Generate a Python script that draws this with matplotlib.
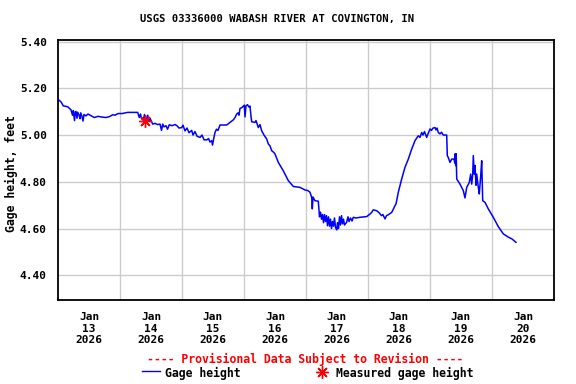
import numpy as np
import matplotlib
matplotlib.use('Agg')
import matplotlib.pyplot as plt

# hours since Jan 13 2026 00:00
hours = [0.27, 1.16, 2.05, 3.75, 5.03, 5.61, 5.92, 6.39, 6.70, 6.97, 7.35, 7.63, 8.13, 8.52,
         8.79, 9.29, 9.68, 10.06, 10.84, 11.61, 12.12, 14.05, 15.48, 17.03, 18.58, 20.13,
         21.17, 22.06, 23.23, 24.77, 26.98, 29.42, 30.85, 31.47, 31.94, 32.32, 33.02, 33.48,
         34.06, 34.72, 35.23, 35.61, 36.66, 37.55, 38.52, 39.48, 40.06, 40.53, 41.03, 41.81,
         42.39, 43.08, 44.13, 45.29, 46.06, 46.84, 47.88, 48.39, 49.16, 49.94, 50.71, 51.75,
         52.26, 53.03, 53.81, 54.97, 55.74, 56.52, 57.56, 58.26, 58.84, 59.50, 59.81, 60.19,
         60.77, 61.35, 61.94, 62.71, 65.30, 66.58, 67.86, 68.52, 69.17, 69.68, 70.06, 70.45,
         71.23, 72.12, 72.39, 72.77, 73.35, 73.94, 74.32, 74.71, 74.98, 76.26, 76.65, 77.54,
         78.19, 78.85, 79.74, 80.79, 81.41, 82.06, 82.72, 83.61, 84.00, 85.28, 87.21, 89.15,
         91.08, 93.68, 95.61, 96.77, 97.55, 98.21, 98.44, 98.71, 99.48, 100.76, 101.23,
         101.61, 102.00, 102.39, 102.77, 103.16, 103.55, 103.94, 104.32, 104.71, 105.10,
         105.48, 105.87, 106.26, 106.65, 107.03, 107.42, 107.88, 108.19, 108.58, 108.97,
         109.35, 109.74, 110.13, 110.52, 110.90, 111.75, 112.26, 112.65, 113.23, 113.81,
         114.31, 115.35, 116.90, 118.45, 119.50, 120.77, 121.35, 122.05, 123.37, 124.26,
         125.23, 125.75, 126.58, 127.16, 127.86, 129.17, 129.68, 130.45, 130.84, 131.73,
         133.04, 134.32, 135.60, 136.92, 138.19, 139.47, 140.13, 140.79, 141.29, 141.87,
         142.45, 142.72, 143.23, 144.00, 144.58, 145.16, 145.94, 146.32, 146.71, 147.21,
         147.87, 148.45, 149.15, 150.46, 150.70, 151.08, 151.74, 152.40, 153.29, 153.60,
         153.76, 153.95, 154.14, 154.34, 155.61, 156.89, 157.55, 158.21, 159.21, 159.75,
         160.14, 160.53, 160.76, 161.15, 161.42, 161.81, 162.08, 162.70, 163.08, 163.63,
         164.01, 164.40, 165.29, 166.57, 168.50, 170.44, 172.37, 174.31, 175.63, 177.29]
gage = [5.150, 5.142, 5.125, 5.121, 5.108, 5.085, 5.105, 5.062, 5.100, 5.101, 5.072, 5.098,
        5.085, 5.070, 5.095, 5.080, 5.060, 5.088, 5.082, 5.090, 5.087, 5.075, 5.080, 5.077,
        5.075, 5.080, 5.087, 5.085, 5.092, 5.092, 5.097, 5.097, 5.097, 5.075, 5.090, 5.070,
        5.064, 5.088, 5.060, 5.085, 5.060, 5.072, 5.047, 5.050, 5.045, 5.047, 5.020, 5.047,
        5.035, 5.040, 5.025, 5.044, 5.040, 5.045, 5.040, 5.030, 5.032, 5.042, 5.018, 5.030,
        5.010, 5.020, 5.000, 5.015, 4.995, 4.990, 5.000, 4.980, 4.979, 4.985, 4.970, 4.976,
        4.957, 4.980, 5.011, 5.025, 5.020, 5.043, 5.043, 5.054, 5.065, 5.075, 5.090, 5.095,
        5.085, 5.114, 5.118, 5.128, 5.078, 5.125, 5.130, 5.120, 5.124, 5.080, 5.057, 5.054,
        5.062, 5.032, 5.045, 5.018, 5.000, 4.983, 4.962, 4.954, 4.933, 4.925, 4.919, 4.883,
        4.847, 4.805, 4.780, 4.776, 4.765, 4.762, 4.755, 4.733, 4.684, 4.735, 4.719, 4.717,
        4.650, 4.670, 4.640, 4.660, 4.625, 4.660, 4.630, 4.655, 4.612, 4.650, 4.610, 4.640,
        4.600, 4.630, 4.610, 4.645, 4.605, 4.594, 4.625, 4.600, 4.650, 4.615, 4.655, 4.620,
        4.640, 4.615, 4.627, 4.650, 4.630, 4.645, 4.632, 4.648, 4.645, 4.648, 4.650, 4.651,
        4.662, 4.668, 4.680, 4.676, 4.668, 4.655, 4.660, 4.641, 4.655, 4.659, 4.669, 4.680,
        4.698, 4.705, 4.755, 4.812, 4.862, 4.897, 4.940, 4.976, 4.997, 4.990, 5.011, 5.000,
        5.015, 4.998, 4.990, 5.005, 5.026, 5.020, 5.030, 5.032, 5.022, 5.030, 5.011, 5.005,
        5.012, 5.000, 5.000, 4.912, 4.904, 4.883, 4.897, 4.897, 4.880, 4.920, 4.869, 4.920,
        4.812, 4.790, 4.762, 4.731, 4.776, 4.797, 4.833, 4.790, 4.830, 4.912, 4.833, 4.870,
        4.785, 4.833, 4.776, 4.748, 4.826, 4.890, 4.719, 4.712, 4.684, 4.648, 4.608, 4.577,
        4.563, 4.556, 4.541]

meas_hours = [33.68]
meas_gage = [5.061]

day_labels = ['Jan\n13\n2026', 'Jan\n14\n2026', 'Jan\n15\n2026', 'Jan\n16\n2026',
              'Jan\n17\n2026', 'Jan\n18\n2026', 'Jan\n19\n2026', 'Jan\n20\n2026']
yticks = [4.40, 4.60, 4.80, 5.00, 5.20, 5.40]

plt.rcParams['font.family'] = 'DejaVu Sans Mono'
plt.rcParams['font.weight'] = 'bold'

fig = plt.figure(figsize=(5.76, 3.84), dpi=100)
ax = fig.add_axes([58/576, 1-300/384, 496/576, 260.5/384])

ax.plot(hours, gage, color='#0000ff', lw=1.1)
ax.plot(meas_hours, meas_gage, marker=(8, 2, 0), color='red', ms=9, mew=1.0, ls='none')

ax.set_xlim(0, 192)
ax.set_ylim(4.294, 5.409)
ax.set_xticks(np.arange(24, 192, 24), minor=True)
ax.set_xticks(np.arange(12, 192, 24))
ax.set_xticklabels(day_labels, fontsize=8, fontweight='bold', linespacing=1.15)
ax.set_yticks(yticks)
ax.set_yticklabels(['%.2f' % v for v in yticks], fontsize=8, fontweight='bold')
ax.tick_params(axis='both', which='both', length=0)
ax.tick_params(axis='x', pad=9)
ax.tick_params(axis='y', pad=8)
ax.grid(True, axis='x', which='minor', color='#cccccc', lw=1)
ax.grid(True, axis='y', which='major', color='#cccccc', lw=1)
ax.set_axisbelow(True)
for s in ax.spines.values():
    s.set_linewidth(1.3)

fig.text(11/576, 1-174/384, 'Gage height, feet', rotation=90, ha='center', va='center',
         fontsize=8.3, fontweight='bold')
fig.text(277/576, 1-19/384, 'USGS 03336000 WABASH RIVER AT COVINGTON, IN', ha='center',
         va='center', fontsize=7.6, fontweight='bold')
fig.text(305/576, 1-359/384, '---- Provisional Data Subject to Revision ----', ha='center',
         va='center', fontsize=8.3, fontweight='bold', color='red')

# legend row
fig.add_artist(plt.Line2D([142/576, 160/576], [1-371/384, 1-371/384], color='#0000ff', lw=1))
fig.text(165/576, 1-373/384, 'Gage height', ha='left', va='center', fontsize=8.3, fontweight='bold')
fig.add_artist(plt.Line2D([322/576], [1-372/384], marker=(8, 2, 0), color='red', ms=9, mew=1.0))
fig.text(336/576, 1-373/384, 'Measured gage height', ha='left', va='center', fontsize=8.3,
         fontweight='bold')

fig.savefig('out.png', dpi=100)
